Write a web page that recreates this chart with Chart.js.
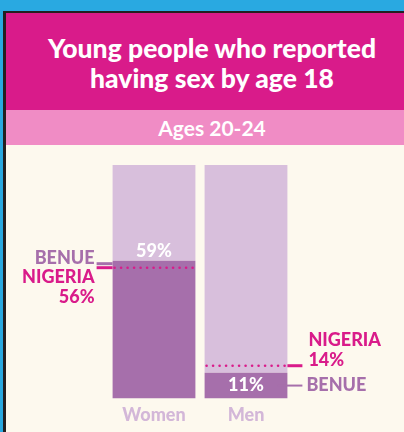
<!DOCTYPE html>
<html>
<head>
<meta charset="utf-8">
<script src="https://cdn.jsdelivr.net/npm/chart.js@4"></script>
<style>
  html, body { margin: 0; padding: 0; }
  body { width: 404px; height: 432px; background: #29a9e1; overflow: hidden; font-family: Lato, "Noto Sans", sans-serif; }
  .frame { position: absolute; left: 3px; top: 11px; right: 0; bottom: 0; border-left: 3px solid #231f20; border-top: 2px solid #231f20; background: #fdf9ee; }
  .head { height: 97px; background: #d91b8a; color: #fff; font-weight: 900; font-size: 26.5px; line-height: 30px; text-align: center; padding-top: 20px; box-sizing: border-box; padding-left: 14px; }
  .band { height: 35px; background: #f08cc5; color: #fff; font-weight: 700; font-size: 21px; line-height: 35px; text-align: center; padding-left: 14px; }
  .wrap { position: absolute; left: 0; top: 132px; width: 398px; height: 287px; }
</style>
</head>
<body>
<div class="frame">
  <div class="head">Young people who reported<br>having sex by age 18</div>
  <div class="band">Ages 20-24</div>
  <div class="wrap"><canvas id="c"></canvas></div>
</div>
<script>
// Daten
const groups = ['Women', 'Men'];
const benue = [59, 11];
const nigeria = [56, 14];

const darkPurple = '#a66fab';
const lightPurple = '#d8bfdc';
const magenta = '#d91b8a';

// Beschriftungen und Nigeria-Linien
const notes = {
  id: 'notes',
  afterDatasetsDraw(chart) {
    const ctx = chart.ctx;
    const y = chart.scales.y;
    const meta = chart.getDatasetMeta(0);
    ctx.save();
    ctx.font = '900 18px Lato';
    ctx.textBaseline = 'middle';

    meta.data.forEach((bar, i) => {
      const left = bar.x - bar.width / 2;
      const right = bar.x + bar.width / 2;
      const yb = y.getPixelForValue(benue[i]);
      const yn = y.getPixelForValue(nigeria[i]);
      const y0 = y.getPixelForValue(0);

      // gepunktete Linie (Nigeria)
      ctx.fillStyle = magenta;
      for (let x = left + 2; x < right - 1; x += 6.5) {
        ctx.beginPath();
        ctx.arc(x, yn, 1.3, 0, Math.PI * 2);
        ctx.fill();
      }

      // Wert im Balken
      ctx.fillStyle = '#fff';
      ctx.textAlign = 'center';
      if (i === 0) {
        ctx.fillText(benue[i] + '%', bar.x, yb - 10);
      } else {
        ctx.fillText(benue[i] + '%', bar.x, (yb + y0) / 2);
      }

      ctx.lineWidth = 3;
      if (i === 0) {
        ctx.strokeStyle = darkPurple;
        ctx.beginPath(); ctx.moveTo(left - 16, yb + 3); ctx.lineTo(left, yb + 3); ctx.stroke();
        ctx.strokeStyle = magenta;
        ctx.beginPath(); ctx.moveTo(left - 16, yn); ctx.lineTo(left, yn); ctx.stroke();
        ctx.textAlign = 'right';
        ctx.fillStyle = darkPurple;
        ctx.fillText('BENUE', left - 18, yn - 10);
        ctx.fillStyle = magenta;
        ctx.fillText('NIGERIA', left - 18, yn + 9);
        ctx.fillText(nigeria[i] + '%', left - 18, yn + 29);
      } else {
        ctx.strokeStyle = magenta;
        ctx.beginPath(); ctx.moveTo(right, yn); ctx.lineTo(right + 15, yn); ctx.stroke();
        ctx.lineWidth = 2;
        ctx.strokeStyle = darkPurple;
        ctx.beginPath(); ctx.moveTo(right - 10, (yb + y0) / 2); ctx.lineTo(right + 15, (yb + y0) / 2); ctx.stroke();
        ctx.textAlign = 'left';
        ctx.fillStyle = magenta;
        ctx.fillText('NIGERIA', right + 21, yn - 26);
        ctx.fillText(nigeria[i] + '%', right + 21, yn - 6);
        ctx.fillStyle = darkPurple;
        ctx.fillText('BENUE', right + 19, (yb + y0) / 2);
      }
    });
    ctx.restore();
  }
};

new Chart(document.getElementById('c'), {
  type: 'bar',
  data: {
    labels: groups,
    datasets: [
      { label: 'Benue', data: benue, backgroundColor: darkPurple },
      { label: 'Rest', data: benue.map(v => 100 - v), backgroundColor: lightPurple }
    ]
  },
  options: {
    responsive: true,
    maintainAspectRatio: false,
    animation: false,
    layout: { padding: { left: 102, right: 112, top: 20, bottom: 0 } },
    datasets: { bar: { categoryPercentage: 0.9, barPercentage: 1 } },
    scales: {
      x: {
        stacked: true,
        grid: { display: false, drawTicks: false },
        border: { display: false },
        ticks: { color: '#d3b7d8', font: { family: 'Lato', size: 18, weight: '900' }, padding: 6 }
      },
      y: {
        stacked: true,
        min: 0,
        max: 100,
        display: false
      }
    },
    plugins: {
      legend: { display: false },
      tooltip: { enabled: false }
    }
  },
  plugins: [notes]
});
</script>
</body>
</html>
